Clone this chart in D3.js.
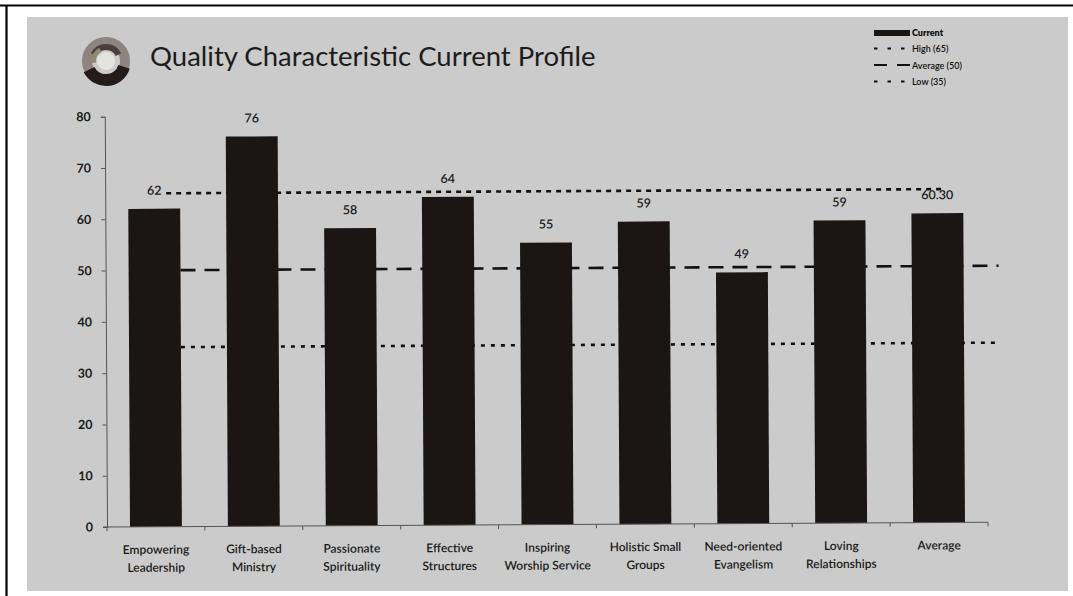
<!DOCTYPE html>
<html><head><meta charset="utf-8">
<script src="https://cdn.jsdelivr.net/npm/d3@7"></script>
<style>
html,body{margin:0;padding:0;background:#fff;}
svg{display:block;font-family:Lato,"Open Sans",sans-serif;}
</style></head>
<body>
<svg id="c" width="1073" height="596"></svg>
<script>
const categories = [["Empowering","Leadership"],["Gift-based","Ministry"],["Passionate","Spirituality"],["Effective","Structures"],["Inspiring","Worship Service"],["Holistic Small","Groups"],["Need-oriented","Evangelism"],["Loving","Relationships"],["Average"]];
const currentValues = [62,76,58,64,55,59,49,59,60.30];
const valueLabels = ["62","76","58","64","55","59","49","59","60.30"];
const refNames = ["High (65)","Average (50)","Low (35)"];
const refValues = [65,50,35];
const yTicks = [0,10,20,30,40,50,60,70,80];
const title = "Quality Characteristic Current Profile";

const svg = d3.select("#c");
// frame
svg.append("rect").attr("x",27).attr("y",17).attr("width",1041).attr("height",574).attr("fill","#cbcbcb");
svg.append("line").attr("x1",0).attr("x2",1073).attr("y1",5.5).attr("y2",5.5).attr("stroke","#000").attr("stroke-width",2.2);
svg.append("line").attr("x1",6.5).attr("x2",6.5).attr("y1",5).attr("y2",596).attr("stroke","#000").attr("stroke-width",2.2);

// logo (swirl)
const logo = svg.append("g").attr("transform","translate(106,61)");
logo.append("circle").attr("r",19).attr("fill","none").attr("stroke","#7a6c66").attr("stroke-width",10).attr("opacity",0.75);
logo.append("circle").attr("r",9).attr("fill","#e4e4de");
logo.append("path").attr("d",d3.arc()({innerRadius:13,outerRadius:25,startAngle:Math.PI*0.6,endAngle:Math.PI*1.35})).attr("fill","#241c1a");
logo.append("path").attr("d",d3.arc()({innerRadius:11,outerRadius:17,startAngle:-Math.PI*0.35,endAngle:Math.PI*0.35})).attr("fill","#4a3e3a");
logo.append("path").attr("d",d3.arc()({innerRadius:10,outerRadius:15,startAngle:Math.PI*1.45,endAngle:Math.PI*1.85})).attr("fill","#8f8a70");

svg.append("text").attr("x",150).attr("y",66).attr("font-size",27.5).attr("fill","#1c1c1c").text(title);

// chart
const margin = {left:107, right:988, top:116.7, bottom:527};
const x = d3.scaleBand().domain(d3.range(categories.length)).range([margin.left, margin.right]).paddingInner(0.47).paddingOuter(0.235);
const y = d3.scaleLinear().domain([0,80]).range([margin.bottom, margin.top]);
const g = svg.append("g").attr("transform",`rotate(-0.31 ${margin.left} ${margin.bottom})`);

// ref lines
const dashes = ["5,5","15,9","4,6"];
const xc = i => x(i) + x.bandwidth()/2;
const refExt = [
  [xc(0)+12, xc(categories.length-1)+8],
  [x(0)+x.bandwidth(), margin.right+12],
  [x(0)+x.bandwidth(), margin.right+12]
];
refValues.forEach((v,k)=>{
  g.append("line").attr("x1",refExt[k][0]).attr("x2",refExt[k][1]).attr("y1",y(v)).attr("y2",y(v))
   .attr("stroke","#111").attr("stroke-width",2.6).attr("stroke-dasharray",dashes[k]);
});

// bars
g.selectAll("rect.bar").data(currentValues).join("rect").attr("class","bar")
  .attr("x",(d,i)=>x(i)).attr("width",x.bandwidth()).attr("y",d=>y(d)).attr("height",d=>y(0)-y(d))
  .attr("fill","#1b1613");

g.selectAll("text.val").data(currentValues).join("text").attr("class","val")
  .attr("x",(d,i)=>xc(i)).attr("y",d=>y(d)-14).attr("text-anchor","middle")
  .attr("font-size",12.5).attr("font-weight",600).attr("fill","#1a1a1a").text((d,i)=>valueLabels[i]);

// y axis
const ya = g.append("g").attr("transform",`translate(${margin.left},0)`)
  .call(d3.axisLeft(y).tickValues(yTicks).tickSize(4).tickPadding(10));
ya.select(".domain").attr("stroke","#555").attr("stroke-width",1);
ya.selectAll(".tick line").attr("stroke","#555");
ya.selectAll(".tick text").attr("font-size",12.5).attr("font-weight",700).attr("fill","#1a1a1a").attr("font-family","Lato,sans-serif");

// x axis
const xBounds = d3.range(categories.length+1).map(i=>margin.left + i*(margin.right-margin.left)/categories.length);
g.append("line").attr("x1",margin.left-4).attr("x2",margin.right).attr("y1",y(0)).attr("y2",y(0)).attr("stroke","#555");
g.selectAll("line.xt").data(xBounds).join("line").attr("class","xt")
  .attr("x1",d=>d).attr("x2",d=>d).attr("y1",y(0)).attr("y2",y(0)+4).attr("stroke","#555");
const cl = g.selectAll("text.cat").data(categories).join("text").attr("class","cat")
  .attr("x",(d,i)=>xc(i)).attr("y",y(0)+27).attr("text-anchor","middle")
  .attr("font-size",12).attr("font-weight",600).attr("fill","#1a1a1a");
cl.each(function(d){
  const t = d3.select(this);
  d.forEach((s,j)=>t.append("tspan").attr("x",t.attr("x")).attr("dy",j===0?0:18).text(s));
});

// legend
const lg = svg.append("g").attr("transform","translate(874,0)");
lg.append("rect").attr("x",0).attr("y",30).attr("width",36).attr("height",6).attr("fill","#1b1613");
lg.append("text").attr("x",38).attr("y",36).attr("font-size",9).attr("font-weight",800).attr("fill","#111").text("Current");
const legDash = ["3.5,10","13,10","3.5,10"];
refNames.forEach((n,k)=>{
  const yy = 52 + k*16.5;
  lg.append("line").attr("x1",0).attr("x2",36).attr("y1",yy-3.5).attr("y2",yy-3.5).attr("stroke","#111").attr("stroke-width",2).attr("stroke-dasharray",legDash[k]);
  lg.append("text").attr("x",38).attr("y",yy).attr("font-size",9).attr("font-weight",600).attr("fill","#111").text(n);
});
</script>
</body></html>
